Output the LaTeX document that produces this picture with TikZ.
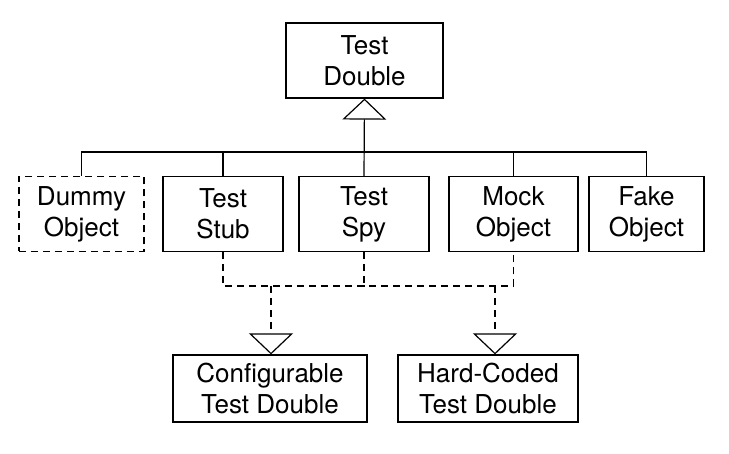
\documentclass[tikz,border=0pt]{standalone}
\usepackage{fontspec}
\setmainfont{TeX Gyre Heros}
\usetikzlibrary{arrows.meta}

\begin{document}
\begin{tikzpicture}[x=1pt, y=-1pt, line width=1.2pt,
    box/.style = {draw, align=center, inner sep=0pt, minimum height=75pt,
                  font=\fontsize{26}{31}\selectfont},
    lowbox/.style = {box, minimum height=67pt},
    dashedbox/.style = {box, dash pattern=on 7pt off 5pt},
    link/.style = {dash pattern=on 7pt off 5pt},
    gen/.style = {-{Triangle[open, length=21pt, width=44pt]}}]
    \useasboundingbox (0,0) rectangle (729,454);
    % parent
    \node[box, minimum width=157pt] (double) at (364.5,60.5) {Test\\Double};
    % variations
    \node[dashedbox, minimum width=125pt] (dummy) at (81.5,214) {Dummy\\Object};
    \node[box, minimum width=120pt] (stub) at (223,214) {Test\\Stub};
    \node[box, minimum width=130pt] (spy) at (364,214) {Test\\Spy};
    \node[box, minimum width=129pt] (mock) at (513.5,214) {Mock\\Object};
    \node[box, minimum width=115pt] (fake) at (646.5,214) {Fake\\Object};
    % how they are built
    \node[lowbox, minimum width=194pt] (config) at (270,388.5) {Configurable\\Test Double};
    \node[lowbox, minimum width=180pt] (hard) at (488,388.5) {Hard-Coded\\Test Double};
    \coordinate (bus) at (364,152);
    \coordinate (dbus) at (364,286);
    \coordinate (dconfig) at (271,286);
    \coordinate (dhard) at (495,286);
    % generalisation
    \draw (dummy.north) |- (bus) -| (fake.north);
    \draw (stub.north) -- (stub.north |- bus);
    \draw (mock.north) -- (mock.north |- bus);
    \draw[gen] (spy.north) -- (double.south);
    % dashed links
    \draw[link] (stub.south) |- (dbus) -| (mock.south);
    \draw[link] (spy.south) -- (dbus);
    \draw[link, gen] (dconfig) -- (dconfig |- config.north);
    \draw[link, gen] (dhard) -- (dhard |- hard.north);
\end{tikzpicture}
\end{document}
